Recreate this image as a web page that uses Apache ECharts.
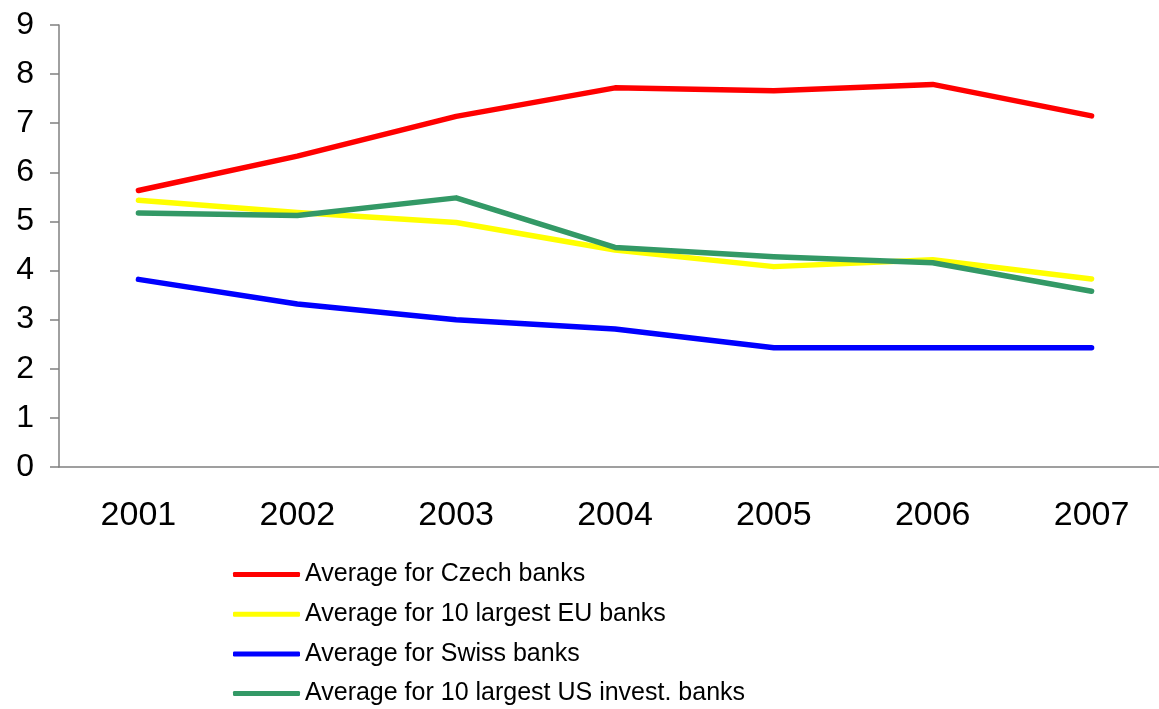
<!DOCTYPE html>
<html>
<head>
<meta charset="utf-8">
<script src="https://cdn.jsdelivr.net/npm/echarts@6/dist/echarts.min.js"></script>
<style>
html, body { margin: 0; padding: 0; background: #ffffff; }
#chart { width: 1159px; height: 709px; }
</style>
</head>
<body>
<div id="chart"></div>
<script>
// Years on the category axis
const years = ['2001', '2002', '2003', '2004', '2005', '2006', '2007'];

// Averages per bank group
const czechBanks = [5.63, 6.33, 7.14, 7.72, 7.66, 7.79, 7.15];
const euLargest10 = [5.43, 5.18, 4.98, 4.42, 4.08, 4.22, 3.83];
const swissBanks = [3.82, 3.32, 3.00, 2.81, 2.43, 2.43, 2.43];
const usInvest10 = [5.17, 5.12, 5.48, 4.47, 4.28, 4.16, 3.58];

const seriesNames = [
  'Average for Czech banks',
  'Average for 10 largest EU banks',
  'Average for Swiss banks',
  'Average for 10 largest US invest. banks'
];
const seriesColors = ['#ff0000', '#ffff00', '#0000ff', '#339966'];
const seriesData = [czechBanks, euLargest10, swissBanks, usInvest10];

const font = 'Liberation Sans, Arial, sans-serif';

const chart = echarts.init(document.getElementById('chart'), null, { renderer: 'canvas' });

chart.setOption({
  backgroundColor: '#ffffff',
  animation: false,
  grid: {
    left: 59, top: 25, right: -12, height: 442,
    containLabel: false,
    outerBoundsMode: 'none'
  },
  xAxis: {
    type: 'category',
    data: years,
    boundaryGap: true,
    axisLine: { lineStyle: { color: '#808080', width: 1.5 } },
    axisTick: { show: false },
    axisLabel: { color: '#000', fontFamily: font, fontSize: 34, margin: 32 },
    splitLine: { show: false }
  },
  yAxis: {
    type: 'value',
    min: 0,
    max: 9,
    interval: 1,
    axisLine: { show: true, lineStyle: { color: '#808080', width: 1.5 } },
    axisTick: { show: true, inside: false, length: 9, lineStyle: { color: '#808080', width: 1.5 } },
    axisLabel: { color: '#000', fontFamily: font, fontSize: 32, margin: 25 },
    splitLine: { show: false }
  },
  legend: {
    orient: 'vertical',
    left: 233,
    top: 562,
    padding: 0,
    icon: 'roundRect',
    itemWidth: 67,
    itemHeight: 5,
    itemGap: 14.7,
    textStyle: { color: '#000', fontFamily: font, fontSize: 25 },
    data: seriesNames
  },
  series: seriesNames.map((name, i) => ({
    name: name,
    type: 'line',
    data: seriesData[i],
    symbol: 'none',
    color: seriesColors[i],
    lineStyle: { width: 5.5, color: seriesColors[i], cap: 'round', join: 'round' }
  }))
});
</script>
</body>
</html>
